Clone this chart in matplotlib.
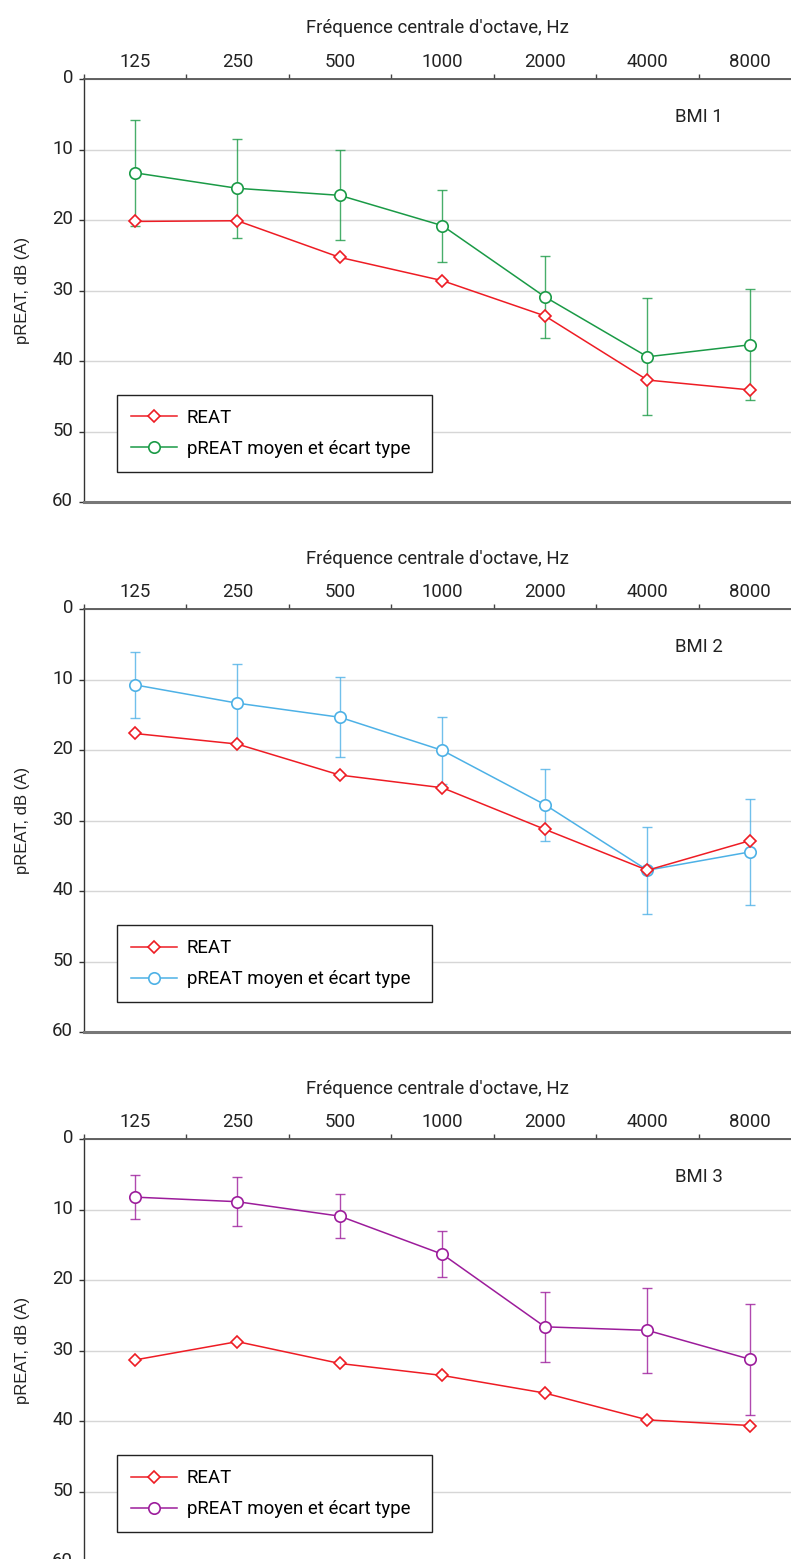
import matplotlib
matplotlib.use('Agg')
import matplotlib.pyplot as plt
import matplotlib.transforms as mtransforms
import numpy as np

# octave band centre frequencies
freqs = ['125', '250', '500', '1000', '2000', '4000', '8000']

# BMI 1
reat_1 = [20.2, 20.1, 25.3, 28.6, 33.6, 42.7, 44.1]
preat_1 = [13.3, 15.5, 16.5, 20.8, 30.9, 39.4, 37.7]
sd_1 = [7.5, 7.0, 6.4, 5.1, 5.8, 8.3, 7.9]

# BMI 2
reat_2 = [17.6, 19.1, 23.5, 25.3, 31.2, 37.0, 32.8]
preat_2 = [10.7, 13.3, 15.3, 20.0, 27.7, 37.0, 34.4]
sd_2 = [4.7, 5.5, 5.7, 4.7, 5.1, 6.2, 7.5]

# BMI 3
reat_3 = [31.3, 28.7, 31.8, 33.5, 36.0, 39.8, 40.6]
preat_3 = [8.2, 8.85, 10.9, 16.3, 26.6, 27.1, 31.2]
sd_3 = [3.1, 3.5, 3.1, 3.3, 5.0, 6.0, 7.9]

panel_names = ['BMI 1', 'BMI 2', 'BMI 3']
panel_colors = ['#1a9a46', '#4db1e6', '#9c1c9b']
reat_color = '#ee1c24'

FS = 13.4


def draw_panel(fig, ax, name, reat, preat, sd, color):
    x = np.arange(len(freqs))
    ax.errorbar(x, preat, yerr=sd, fmt='none', ecolor=color, elinewidth=1,
                capsize=3.5, capthick=1, alpha=0.8, zorder=2)
    l2, = ax.plot(x, preat, '-o', color=color, lw=1.1, markersize=8.2,
                  markerfacecolor='white', markeredgecolor=color, markeredgewidth=1.2,
                  zorder=3, label='pREAT moyen et écart type')
    l1, = ax.plot(x, reat, '-D', color=reat_color, lw=1.1, markersize=6.3,
                  markerfacecolor='white', markeredgecolor=reat_color, markeredgewidth=1.2,
                  zorder=4, label='REAT')

    ax.set_xlim(-0.5, 6.4)
    ax.set_ylim(60, 0)
    ax.set_yticks(range(0, 61, 10))
    ax.yaxis.grid(True, color='#d6d6d6', lw=1)
    ax.set_axisbelow(True)

    ax.xaxis.set_ticks_position('top')
    ax.xaxis.set_label_position('top')
    ax.set_xticks(np.arange(-0.5, 6, 1))
    ax.set_xticklabels([''] * 7)
    ax.set_xticks(x, minor=True)
    ax.set_xticklabels(freqs, minor=True)
    ax.tick_params(axis='x', which='major', direction='out', length=3.6, width=1,
                   color='#444444', top=True, bottom=False, labeltop=True, labelbottom=False)
    ax.tick_params(axis='x', which='minor', length=0, pad=6, labelsize=FS,
                   top=True, bottom=False, labeltop=True, labelbottom=False,
                   labelcolor='#222222')
    ax.tick_params(axis='y', direction='out', length=3.6, width=1, color='#333333',
                   pad=4, labelsize=FS, labelcolor='#222222')
    offset = mtransforms.ScaledTranslation(0, 0.03, fig.dpi_scale_trans)
    for lab in ax.get_yticklabels():
        lab.set_transform(lab.get_transform() + offset)

    ax.set_xlabel("Fréquence centrale d'octave, Hz", fontsize=FS, labelpad=14, color='#222222')
    ax.set_ylabel('pREAT, dB (A)', fontsize=12, family='Liberation Sans', color='#222222')
    ax.yaxis.set_label_coords(-0.076, 0.5)

    ax.spines['right'].set_visible(False)
    ax.spines['top'].set_color('#555555')
    ax.spines['top'].set_linewidth(1.3)
    ax.spines['left'].set_color('#333333')
    ax.spines['left'].set_linewidth(1)
    ax.spines['bottom'].set_color('#777777')
    ax.spines['bottom'].set_linewidth(2.2)

    ax.text(5.5, 5.4, name, ha='center', va='center', fontsize=FS, color='#222222')

    leg = ax.legend(handles=[l1, l2], loc='upper left', bbox_to_anchor=(0.047, 0.0, 0.445, 0.253),
                    mode='expand', borderaxespad=0, fontsize=FS, fancybox=False,
                    edgecolor='#222222', framealpha=1, borderpad=0.75, labelspacing=0.7,
                    handlelength=2.5, handletextpad=0.5)
    leg.get_frame().set_linewidth(1)


def main():
    plt.rcParams['font.family'] = ['Roboto', 'DejaVu Sans']
    fig = plt.figure(figsize=(7.91, 15.59), dpi=100)
    bottoms = [0.678, 0.3378, -0.0021]
    data = [(reat_1, preat_1, sd_1), (reat_2, preat_2, sd_2), (reat_3, preat_3, sd_3)]
    for i in range(3):
        ax = fig.add_axes([0.1056, bottoms[i], 0.8944, 0.2713])
        reat, preat, sd = data[i]
        draw_panel(fig, ax, panel_names[i], reat, preat, sd, panel_colors[i])
    plt.savefig('out.png', dpi=100)


if __name__ == '__main__':
    main()
